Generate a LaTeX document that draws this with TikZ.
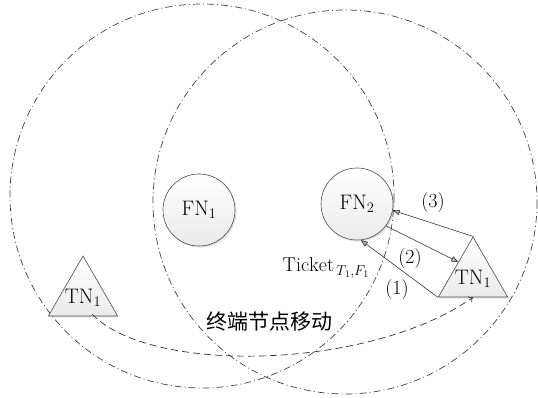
\documentclass[tikz,border=0pt]{standalone}
\usepackage{fontspec}
\newfontfamily\cjk{Noto Sans CJK SC}
\usetikzlibrary{shapes.geometric,shadows,arrows.meta,calc}
\begin{document}
\begin{tikzpicture}[x=1pt,y=-1pt,
  coverzone/.style={draw=black!75, line width=0.7pt, dash pattern=on 7pt off 3pt on 1pt off 3pt},
  fognode/.style={circle, draw=black!70, line width=0.6pt, minimum size=72pt, inner sep=0pt,
    top color=white, bottom color=gray!16,
    drop shadow={opacity=0.25, shadow xshift=1.5pt, shadow yshift=-1.5pt},
    font=\fontsize{21}{24}\selectfont},
  termnode/.style={regular polygon, regular polygon sides=3, minimum size=80pt, inner sep=0pt,
    draw=black!70, line width=0.6pt, top color=white, middle color=gray!6, bottom color=gray!16,
    drop shadow={opacity=0.2, shadow xshift=1pt, shadow yshift=-1.5pt}},
  termtext/.style={inner sep=0pt, font=\fontsize{21}{24}\selectfont},
  msglink/.style={draw=black!80, line width=0.6pt, -{Triangle[length=7pt,width=5.5pt,fill=gray!60]}},
  movepath/.style={draw=black!80, line width=0.7pt, dash pattern=on 7pt off 4pt, -{To[length=4pt,width=7pt]}},
  msglbl/.style={font=\fontsize{20}{23}\selectfont, inner sep=1pt}
]
\useasboundingbox (0,0) rectangle (538,398);

% coverage ranges of the two fog nodes
\draw[coverzone] (202,196) circle[radius=192];
\draw[coverzone] (345,202) circle[radius=192];

% fog nodes
\node[fognode] (fn1) at (199,210) {$\mathrm{FN}_1$};
\node[fognode] (fn2) at (357,204) {$\mathrm{FN}_2$};

% terminal node before and after moving
\node[termnode] (tn1) at (83,296) {};
\node[termtext] (tn1t) at ([yshift=-2pt]tn1.center) {$\mathrm{TN}_1$};
\node[termnode] (tn2) at (473,277) {};
\node[termtext] (tn2t) at ([yshift=-2pt]tn2.center) {$\mathrm{TN}_1$};

% movement of the terminal node
\coordinate (mvstart) at (92,314);
\draw[movepath] (mvstart) .. controls (150,375) and (370,370) .. (tn2.south);
\node[font=\cjk\fontsize{21}{24}\selectfont] (mvlbl) at (269,322) {终端节点移动};

% message exchange
\coordinate (hit2) at ($(tn2.corner 1)!0.42!(tn2.corner 2)$);
\draw[msglink] (tn2.corner 2) -- (fn2.-84);
\draw[msglink] (fn2.-37) -- (hit2);
\draw[msglink] (tn2.corner 1) -- (fn2.-10);

\node[msglbl] (l1) at (397,290) {(1)};
\node[msglbl] (l2) at (410,259) {(2)};
\node[msglbl] (l3) at (433,203) {(3)};
\node[msglbl] (tk) at (326,268) {$\mathrm{Ticket}_{\,T_1,F_1}$};
\end{tikzpicture}
\end{document}
